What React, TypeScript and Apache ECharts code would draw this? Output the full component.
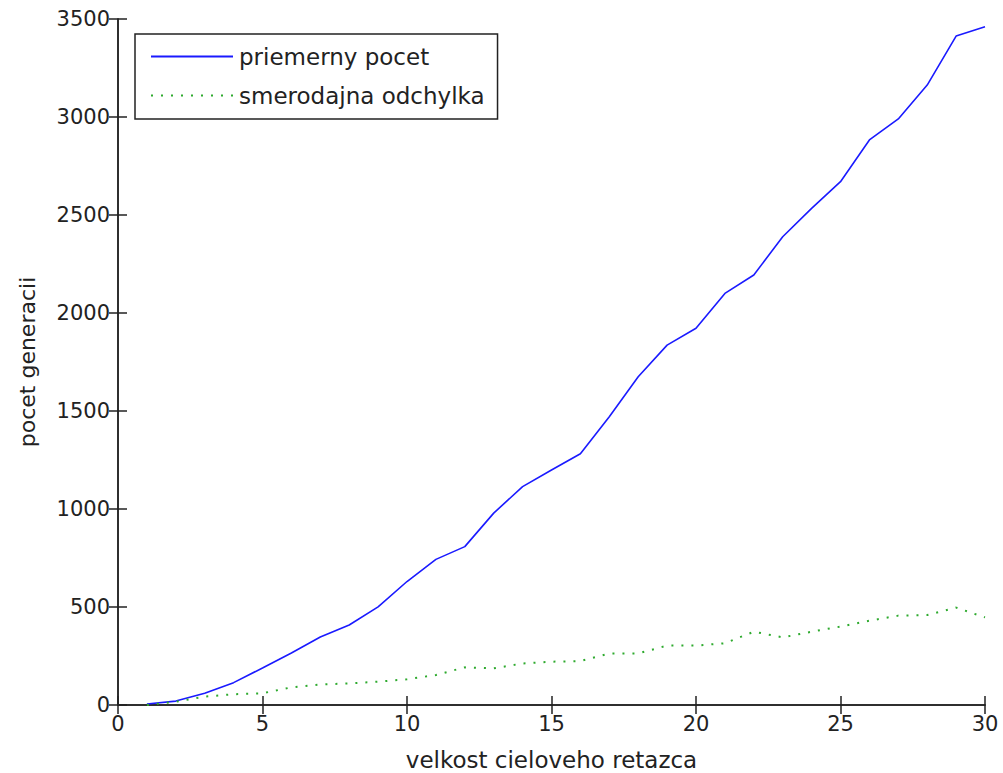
import React, { useEffect, useRef } from "react";
import * as echarts from "echarts";

const xValues = [1,2,3,4,5,6,7,8,9,10,11,12,13,14,15,16,17,18,19,20,21,22,23,24,25,26,27,28,29,30];
const meanValues = [5,20,60,114,189,265,347,408,501,630,743,808,979,1114,1199,1282,1471,1675,1836,1922,2100,2194,2389,2534,2670,2883,2990,3163,3413,3460];
const stdValues = [0,17,43,55,60,90,105,110,119,131,153,192,187,212,221,224,263,263,303,303,315,374,345,374,400,430,456,459,497,447];
const xTicks = [0,5,10,15,20,25,30];
const yTicks = [0,500,1000,1500,2000,2500,3000,3500];
const seriesNames = ["priemerny pocet", "smerodajna odchylka"];
const xTitle = "velkost cieloveho retazca";
const yTitle = "pocet generacii";

const FONT = "'DejaVu Sans', sans-serif";

export default function App() {
  const ref = useRef<HTMLDivElement>(null);
  useEffect(() => {
    if (!ref.current) return;
    const chart = echarts.init(ref.current, null, { renderer: "svg" });
    const axisColor = "#222";
    const label = { color: "#222", fontSize: 21, fontFamily: FONT };
    chart.setOption({
      animation: false,
      backgroundColor: "#fff",
      grid: { left: 118, right: 18, top: 19, bottom: 68, outerBoundsMode: "none", containLabel: false },
      legend: {
        orient: "vertical",
        left: 135,
        top: 34,
        padding: [11, 13, 12, 15],
        itemGap: 16,
        itemWidth: 82,
        itemHeight: 14,
        borderColor: "#222",
        borderWidth: 1.5,
        backgroundColor: "#fff",
        itemStyle: { opacity: 0 },
        textStyle: { color: "#222", fontSize: 23, fontFamily: FONT, padding: [0, 0, 0, 1] },
        data: seriesNames,
      },
      xAxis: [
        {
          type: "value",
          min: 0,
          max: 30,
          interval: 5,
          position: "bottom",
          name: xTitle,
          nameLocation: "middle",
          nameGap: 43,
          nameTextStyle: { ...label, fontSize: 23 },
          axisLine: { show: true, lineStyle: { color: axisColor, width: 1.5 } },
          axisTick: { show: true, inside: true, length: 9, lineStyle: { color: axisColor, width: 1.5 } },
          axisLabel: { ...label, margin: 8, formatter: (v: number) => (xTicks.includes(v) ? String(v) : "") },
          splitLine: { show: false },
        },
        {
          type: "value",
          min: 0,
          max: 30,
          interval: 5,
          position: "top",
          axisLine: { show: true, lineStyle: { color: axisColor, width: 1.5 } },
          axisTick: { show: true, inside: true, length: 9, lineStyle: { color: axisColor, width: 1.5 } },
          axisLabel: { show: false },
          splitLine: { show: false },
        },
      ],
      yAxis: [
        {
          type: "value",
          min: 0,
          max: 3500,
          interval: 500,
          position: "left",
          name: yTitle,
          nameLocation: "middle",
          nameGap: 80,
          nameTextStyle: { ...label, fontSize: 22 },
          axisLine: { show: true, lineStyle: { color: axisColor, width: 1.5 } },
          axisTick: { show: true, inside: true, length: 9, lineStyle: { color: axisColor, width: 1.5 } },
          axisLabel: { ...label, margin: 8, formatter: (v: number) => (yTicks.includes(v) ? String(v) : "") },
          splitLine: { show: false },
        },
        {
          type: "value",
          min: 0,
          max: 3500,
          interval: 500,
          position: "right",
          axisLine: { show: true, lineStyle: { color: axisColor, width: 1.5 } },
          axisTick: { show: true, inside: true, length: 9, lineStyle: { color: axisColor, width: 1.5 } },
          axisLabel: { show: false },
          splitLine: { show: false },
        },
      ],
      series: [
        {
          name: seriesNames[0],
          type: "line",
          xAxisIndex: 0,
          yAxisIndex: 0,
          showSymbol: false,
          symbol: "none",
          data: xValues.map((x, i) => [x, meanValues[i]]),
          lineStyle: { color: "#1a1aff", width: 1.6 },
          itemStyle: { color: "#1a1aff" },
        },
        {
          name: seriesNames[1],
          type: "line",
          xAxisIndex: 0,
          yAxisIndex: 0,
          showSymbol: false,
          symbol: "none",
          data: xValues.map((x, i) => [x, stdValues[i]]),
          lineStyle: { color: "#2eaa2e", width: 2, type: [2, 8] },
          itemStyle: { color: "#2eaa2e" },
        },
      ],
    });
    return () => chart.dispose();
  }, []);
  return (
    <div
      ref={ref}
      style={{ position: "fixed", left: 0, top: 0, width: 1003, height: 773, background: "#fff" }}
    />
  );
}
